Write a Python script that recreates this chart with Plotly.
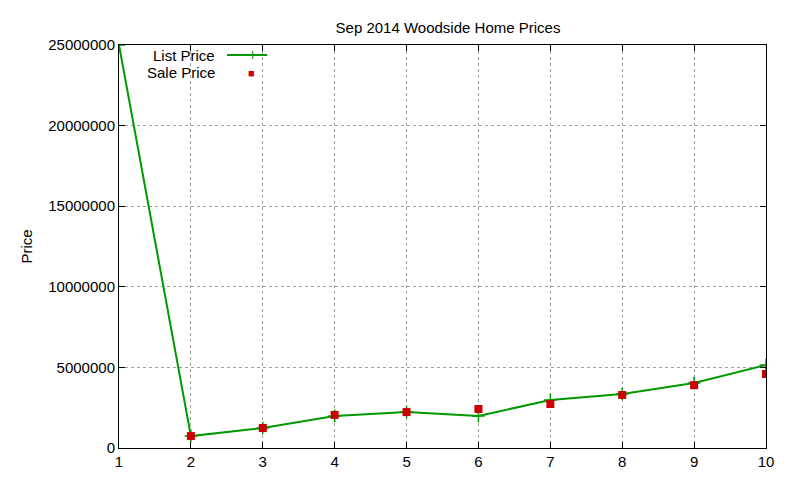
import plotly.graph_objects as go

x = [1, 2, 3, 4, 5, 6, 7, 8, 9, 10]
list_price = [25000000, 740000, 1240000, 1990000, 2230000, 1990000, 2980000, 3350000, 4030000, 5150000]
sale_x = [2, 3, 4, 5, 6, 7, 8, 9, 10]
sale_price = [740000, 1240000, 2050000, 2230000, 2420000, 2730000, 3290000, 3900000, 4590000]
yticks = [0, 5000000, 10000000, 15000000, 20000000, 25000000]

fig = go.Figure()
fig.add_trace(go.Scatter(x=x, y=list_price, mode="lines+markers", name="List Price",
    line=dict(color="#009900", width=2),
    marker=dict(symbol="cross-thin", size=9, line=dict(color="#009900", width=1.5))))
fig.add_trace(go.Scatter(x=sale_x, y=sale_price, mode="markers", name="Sale Price",
    marker=dict(symbol="square", size=8, color="#cc0000")))

ax = dict(showline=True, mirror="ticks", linecolor="black", linewidth=1,
          ticks="inside", ticklen=6, tickcolor="black",
          showgrid=True, gridcolor="#a0a0a0", griddash="dot", gridwidth=1, zeroline=False,
          tickfont=dict(family="Liberation Sans, Arial", size=15, color="black"))
fig.update_xaxes(range=[1, 10], tickvals=x, **ax)
fig.update_yaxes(range=[0, 25000000], tickvals=yticks, tickformat="d",
                 title=dict(text="Price", font=dict(family="Liberation Sans, Arial", size=15, color="black"), standoff=12), **ax)

f = dict(family="Liberation Sans, Arial", size=15, color="black")
fig.add_annotation(xref="paper", yref="paper", x=0.151, y=0.975, text="List Price", showarrow=False, xanchor="right", yanchor="middle", font=f)
fig.add_annotation(xref="paper", yref="paper", x=0.151, y=0.933, text="Sale Price", showarrow=False, xanchor="right", yanchor="middle", font=f)
fig.add_shape(type="line", xref="paper", yref="paper", x0=0.167, x1=0.229, y0=0.975, y1=0.975, line=dict(color="#009900", width=2))
fig.add_annotation(xref="paper", yref="paper", x=0.196, y=0.975, text="+", showarrow=False, yanchor="middle", font=dict(size=16, color="#009900"))
fig.add_annotation(xref="paper", yref="paper", x=0.196, y=0.933, text="■", showarrow=False, yanchor="middle", font=dict(size=11, color="#cc0000"))

fig.update_layout(width=800, height=480, plot_bgcolor="white", paper_bgcolor="white",
    showlegend=False,
    margin=dict(l=111, r=42, t=37, b=40),
    title=dict(text="Sep 2014 Woodside Home Prices", x=0.55, xanchor="center", y=0.97,
               font=dict(family="Liberation Sans, Arial", size=15, color="black")))
fig.write_html("out.html")
